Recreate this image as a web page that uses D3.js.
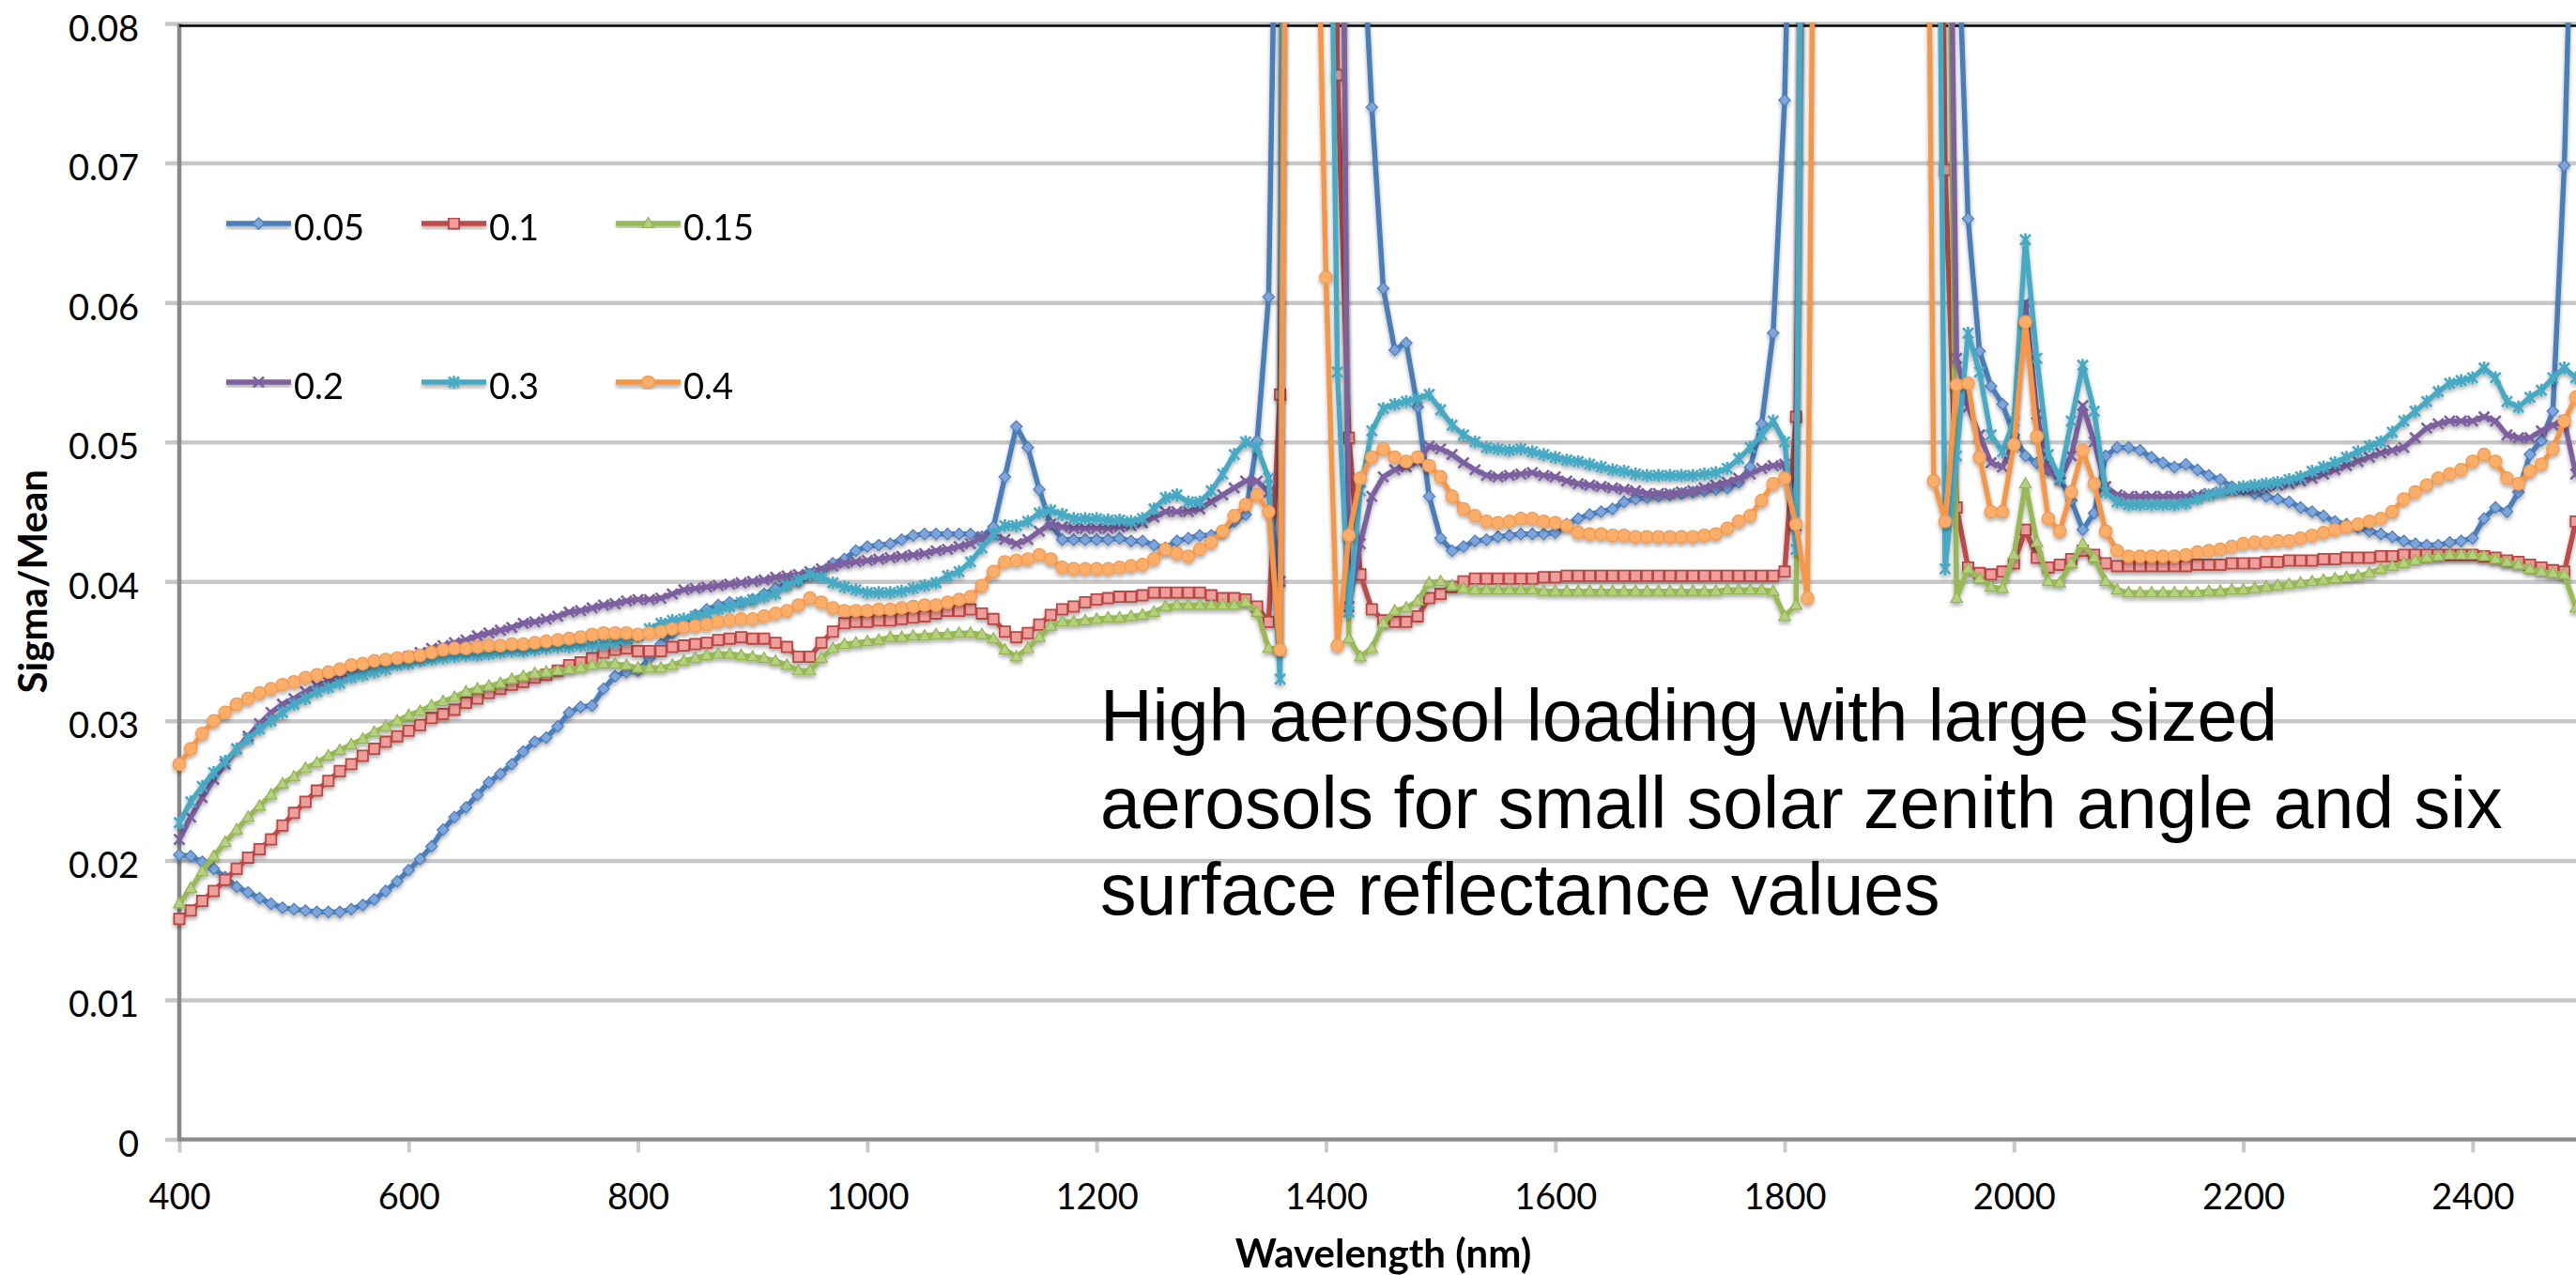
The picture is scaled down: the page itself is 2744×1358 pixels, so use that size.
<!DOCTYPE html>
<html>
<head>
<meta charset="utf-8">
<script src="https://cdn.jsdelivr.net/npm/d3@7"></script>
<style>
  html, body { margin: 0; padding: 0; background: #fff; }
  svg { display: block; }
</style>
</head>
<body>
<svg id="chart" width="2744" height="1358"></svg>
<script>
// Wavelength grid (nm) shared by every series
const wavelengths = d3.range(400, 2501, 10);

// Legend labels: surface reflectance of each run
const reflectances = ["0.05", "0.1", "0.15", "0.2", "0.3", "0.4"];

// Sigma/Mean per wavelength, one array per surface reflectance.
// Values above 0.08 sit in the water-vapour bands and run off the top of the plot.
const sigma005 = [
  0.0204,0.0203,0.0199,0.0194,0.0188,0.0181,0.0177,0.0173,0.0169,0.0166,
  0.0165,0.0164,0.0163,0.0163,0.0163,0.0165,0.0168,0.0172,0.0178,0.0185,
  0.0193,0.0201,0.0210,0.0222,0.0231,0.0238,0.0247,0.0256,0.0262,0.0269,
  0.0278,0.0285,0.0288,0.0296,0.0306,0.0310,0.0311,0.0323,0.0332,0.0335,
  0.0336,0.0345,0.0355,0.0363,0.0370,0.0376,0.0380,0.0383,0.0385,0.0385,
  0.0387,0.0391,0.0395,0.0398,0.0400,0.0405,0.0407,0.0413,0.0416,0.0422,
  0.0425,0.0426,0.0427,0.0430,0.0433,0.0434,0.0434,0.0434,0.0434,0.0434,
  0.0432,0.0439,0.0475,0.0511,0.0496,0.0466,0.0441,0.0430,0.0430,0.0430,
  0.0430,0.0430,0.0431,0.0429,0.0429,0.0426,0.0424,0.0429,0.0431,0.0433,
  0.0433,0.0436,0.0443,0.0448,0.0501,0.0604,0.1100,0.2000,0.2500,0.2500,
  0.2000,0.1500,0.1100,0.0900,0.0740,0.0610,0.0566,0.0571,0.0525,0.0461,
  0.0431,0.0422,0.0425,0.0429,0.0430,0.0432,0.0433,0.0434,0.0434,0.0434,
  0.0435,0.0441,0.0445,0.0448,0.0450,0.0452,0.0457,0.0459,0.0460,0.0461,
  0.0462,0.0463,0.0464,0.0465,0.0466,0.0467,0.0471,0.0482,0.0513,0.0578,
  0.0745,0.1100,0.1600,0.2200,0.3000,0.3500,0.4000,0.4000,0.4000,0.4000,
  0.3500,0.3000,0.2200,0.1600,0.1200,0.0900,0.0660,0.0565,0.0540,0.0527,
  0.0505,0.0490,0.0485,0.0480,0.0474,0.0458,0.0437,0.0449,0.0490,0.0496,
  0.0496,0.0494,0.0489,0.0485,0.0482,0.0484,0.0480,0.0476,0.0473,0.0468,
  0.0466,0.0463,0.0461,0.0459,0.0457,0.0453,0.0450,0.0447,0.0443,0.0441,
  0.0439,0.0436,0.0434,0.0432,0.0429,0.0427,0.0426,0.0426,0.0428,0.0429,
  0.0431,0.0445,0.0453,0.0450,0.0464,0.0491,0.0501,0.0522,0.0698,0.1000,
  0.1300
];
const sigma010 = [
  0.0158,0.0164,0.0171,0.0178,0.0186,0.0194,0.0202,0.0208,0.0215,0.0225,
  0.0234,0.0242,0.0250,0.0257,0.0264,0.0269,0.0275,0.0280,0.0285,0.0289,
  0.0293,0.0297,0.0302,0.0305,0.0308,0.0313,0.0316,0.0320,0.0323,0.0326,
  0.0328,0.0331,0.0333,0.0336,0.0340,0.0342,0.0345,0.0349,0.0351,0.0352,
  0.0350,0.0350,0.0350,0.0353,0.0354,0.0355,0.0356,0.0358,0.0359,0.0360,
  0.0359,0.0359,0.0356,0.0353,0.0346,0.0346,0.0356,0.0364,0.0370,0.0371,
  0.0371,0.0372,0.0372,0.0373,0.0374,0.0375,0.0377,0.0379,0.0379,0.0380,
  0.0377,0.0373,0.0364,0.0360,0.0363,0.0369,0.0376,0.0380,0.0382,0.0385,
  0.0387,0.0388,0.0389,0.0389,0.0390,0.0392,0.0392,0.0392,0.0392,0.0392,
  0.0390,0.0388,0.0388,0.0387,0.0382,0.0371,0.0534,0.2000,0.3000,0.3000,
  0.1800,0.0763,0.0503,0.0405,0.0380,0.0372,0.0371,0.0371,0.0375,0.0388,
  0.0391,0.0396,0.0400,0.0402,0.0402,0.0402,0.0402,0.0402,0.0402,0.0403,
  0.0403,0.0404,0.0404,0.0404,0.0404,0.0404,0.0404,0.0404,0.0404,0.0404,
  0.0404,0.0404,0.0404,0.0404,0.0404,0.0404,0.0404,0.0404,0.0404,0.0404,
  0.0407,0.0518,0.1200,0.2000,0.3000,0.3500,0.4000,0.4000,0.4000,0.4000,
  0.3500,0.3000,0.2000,0.1500,0.0695,0.0453,0.0410,0.0406,0.0405,0.0407,
  0.0413,0.0437,0.0417,0.0410,0.0412,0.0416,0.0422,0.0419,0.0413,0.0411,
  0.0411,0.0411,0.0411,0.0411,0.0411,0.0411,0.0412,0.0412,0.0412,0.0413,
  0.0413,0.0413,0.0414,0.0414,0.0415,0.0415,0.0415,0.0416,0.0416,0.0417,
  0.0417,0.0417,0.0418,0.0418,0.0419,0.0419,0.0419,0.0419,0.0419,0.0419,
  0.0419,0.0418,0.0417,0.0415,0.0414,0.0412,0.0410,0.0408,0.0407,0.0443,
  0.0450
];
const sigma015 = [
  0.0169,0.0180,0.0192,0.0203,0.0213,0.0222,0.0231,0.0239,0.0247,0.0255,
  0.0260,0.0266,0.0270,0.0275,0.0279,0.0283,0.0287,0.0292,0.0296,0.0300,
  0.0304,0.0307,0.0311,0.0314,0.0317,0.0321,0.0323,0.0325,0.0327,0.0330,
  0.0332,0.0334,0.0335,0.0336,0.0337,0.0338,0.0340,0.0341,0.0341,0.0340,
  0.0338,0.0338,0.0338,0.0340,0.0343,0.0345,0.0347,0.0348,0.0348,0.0347,
  0.0346,0.0345,0.0343,0.0340,0.0336,0.0336,0.0345,0.0352,0.0355,0.0356,
  0.0357,0.0358,0.0360,0.0360,0.0361,0.0361,0.0362,0.0362,0.0363,0.0363,
  0.0362,0.0359,0.0351,0.0346,0.0352,0.0360,0.0368,0.0371,0.0371,0.0372,
  0.0373,0.0374,0.0374,0.0375,0.0376,0.0378,0.0382,0.0383,0.0383,0.0383,
  0.0383,0.0383,0.0383,0.0385,0.0378,0.0352,0.0352,0.2500,0.3000,0.3000,
  0.2500,0.1500,0.0359,0.0346,0.0352,0.0370,0.0379,0.0381,0.0386,0.0399,
  0.0400,0.0397,0.0395,0.0394,0.0394,0.0394,0.0394,0.0394,0.0394,0.0393,
  0.0393,0.0393,0.0393,0.0393,0.0393,0.0393,0.0393,0.0393,0.0393,0.0393,
  0.0393,0.0393,0.0393,0.0393,0.0393,0.0394,0.0394,0.0394,0.0394,0.0393,
  0.0375,0.0383,0.1500,0.2500,0.3000,0.3500,0.4000,0.4000,0.4000,0.4000,
  0.3500,0.3000,0.2500,0.2000,0.1200,0.0388,0.0409,0.0402,0.0396,0.0395,
  0.0419,0.0470,0.0428,0.0400,0.0399,0.0413,0.0427,0.0417,0.0400,0.0394,
  0.0392,0.0392,0.0392,0.0392,0.0392,0.0392,0.0392,0.0393,0.0393,0.0394,
  0.0394,0.0395,0.0396,0.0397,0.0398,0.0399,0.0400,0.0401,0.0402,0.0403,
  0.0404,0.0406,0.0409,0.0411,0.0413,0.0415,0.0417,0.0418,0.0419,0.0419,
  0.0419,0.0418,0.0416,0.0414,0.0412,0.0409,0.0407,0.0406,0.0405,0.0381,
  0.0380
];
const sigma020 = [
  0.0215,0.0231,0.0245,0.0258,0.0269,0.0280,0.0289,0.0298,0.0306,0.0312,
  0.0316,0.0321,0.0325,0.0328,0.0332,0.0335,0.0337,0.0340,0.0342,0.0344,
  0.0346,0.0349,0.0352,0.0354,0.0356,0.0358,0.0361,0.0363,0.0365,0.0367,
  0.0370,0.0371,0.0373,0.0375,0.0378,0.0379,0.0381,0.0383,0.0384,0.0386,
  0.0387,0.0387,0.0388,0.0391,0.0394,0.0395,0.0396,0.0397,0.0398,0.0399,
  0.0400,0.0401,0.0403,0.0404,0.0405,0.0407,0.0409,0.0411,0.0413,0.0414,
  0.0415,0.0416,0.0417,0.0418,0.0419,0.0420,0.0422,0.0423,0.0425,0.0427,
  0.0432,0.0433,0.0430,0.0427,0.0430,0.0436,0.0441,0.0439,0.0438,0.0438,
  0.0438,0.0438,0.0439,0.0440,0.0442,0.0446,0.0450,0.0450,0.0450,0.0452,
  0.0457,0.0462,0.0467,0.0472,0.0472,0.0464,0.0400,0.2000,0.3000,0.3000,
  0.2500,0.1400,0.0382,0.0427,0.0461,0.0475,0.0480,0.0482,0.0486,0.0497,
  0.0495,0.0491,0.0485,0.0480,0.0476,0.0475,0.0476,0.0477,0.0478,0.0476,
  0.0475,0.0472,0.0470,0.0469,0.0468,0.0467,0.0466,0.0465,0.0463,0.0463,
  0.0463,0.0464,0.0465,0.0467,0.0469,0.0471,0.0474,0.0477,0.0481,0.0483,
  0.0484,0.0440,0.1400,0.2500,0.3000,0.3500,0.4000,0.4000,0.4000,0.4000,
  0.3500,0.3000,0.2500,0.2000,0.1200,0.0560,0.0525,0.0505,0.0485,0.0482,
  0.0500,0.0600,0.0520,0.0480,0.0473,0.0490,0.0526,0.0500,0.0468,0.0462,
  0.0461,0.0461,0.0461,0.0461,0.0461,0.0461,0.0462,0.0463,0.0464,0.0465,
  0.0466,0.0467,0.0468,0.0469,0.0470,0.0472,0.0474,0.0477,0.0480,0.0483,
  0.0486,0.0489,0.0492,0.0494,0.0496,0.0503,0.0510,0.0513,0.0515,0.0515,
  0.0515,0.0518,0.0515,0.0505,0.0503,0.0503,0.0508,0.0512,0.0515,0.0477,
  0.0470
];
const sigma030 = [
  0.0227,0.0242,0.0253,0.0263,0.0271,0.0280,0.0287,0.0294,0.0300,0.0306,
  0.0312,0.0316,0.0321,0.0324,0.0327,0.0331,0.0333,0.0335,0.0337,0.0340,
  0.0341,0.0343,0.0344,0.0345,0.0346,0.0347,0.0347,0.0348,0.0349,0.0350,
  0.0350,0.0351,0.0352,0.0353,0.0353,0.0354,0.0354,0.0355,0.0356,0.0358,
  0.0361,0.0366,0.0370,0.0372,0.0373,0.0375,0.0377,0.0380,0.0382,0.0385,
  0.0387,0.0389,0.0391,0.0397,0.0401,0.0405,0.0403,0.0399,0.0396,0.0394,
  0.0392,0.0392,0.0392,0.0393,0.0395,0.0397,0.0399,0.0404,0.0407,0.0414,
  0.0424,0.0434,0.0440,0.0440,0.0443,0.0449,0.0451,0.0448,0.0445,0.0445,
  0.0445,0.0444,0.0444,0.0443,0.0445,0.0452,0.0460,0.0462,0.0457,0.0457,
  0.0465,0.0477,0.0491,0.0500,0.0496,0.0474,0.0330,0.2500,0.3000,0.3000,
  0.1200,0.0550,0.0378,0.0465,0.0508,0.0524,0.0527,0.0529,0.0531,0.0534,
  0.0523,0.0512,0.0505,0.0500,0.0496,0.0495,0.0494,0.0495,0.0493,0.0491,
  0.0489,0.0487,0.0486,0.0484,0.0482,0.0480,0.0479,0.0477,0.0476,0.0476,
  0.0476,0.0476,0.0476,0.0477,0.0478,0.0481,0.0488,0.0496,0.0505,0.0515,
  0.0500,0.0423,0.1500,0.2500,0.3000,0.3500,0.4000,0.4000,0.4000,0.4000,
  0.3500,0.3000,0.2500,0.1400,0.0409,0.0490,0.0578,0.0550,0.0505,0.0493,
  0.0515,0.0645,0.0560,0.0491,0.0474,0.0515,0.0555,0.0522,0.0464,0.0457,
  0.0455,0.0455,0.0455,0.0455,0.0455,0.0456,0.0459,0.0462,0.0464,0.0466,
  0.0468,0.0469,0.0470,0.0471,0.0473,0.0475,0.0479,0.0482,0.0485,0.0489,
  0.0493,0.0497,0.0500,0.0507,0.0515,0.0522,0.0529,0.0536,0.0542,0.0544,
  0.0546,0.0553,0.0546,0.0529,0.0525,0.0532,0.0537,0.0546,0.0553,0.0546,
  0.0540
];
const sigma040 = [
  0.0269,0.0280,0.0291,0.0300,0.0306,0.0312,0.0316,0.0320,0.0323,0.0326,
  0.0328,0.0331,0.0333,0.0335,0.0337,0.0340,0.0341,0.0343,0.0344,0.0345,
  0.0346,0.0347,0.0349,0.0351,0.0352,0.0352,0.0353,0.0354,0.0354,0.0355,
  0.0355,0.0356,0.0357,0.0358,0.0359,0.0360,0.0362,0.0363,0.0363,0.0363,
  0.0362,0.0363,0.0364,0.0366,0.0367,0.0368,0.0369,0.0371,0.0372,0.0373,
  0.0373,0.0375,0.0377,0.0379,0.0383,0.0388,0.0385,0.0381,0.0379,0.0379,
  0.0379,0.0380,0.0380,0.0381,0.0382,0.0383,0.0383,0.0385,0.0387,0.0389,
  0.0397,0.0407,0.0414,0.0415,0.0416,0.0419,0.0416,0.0410,0.0409,0.0409,
  0.0409,0.0409,0.0410,0.0411,0.0412,0.0416,0.0423,0.0420,0.0418,0.0423,
  0.0428,0.0436,0.0447,0.0455,0.0462,0.0450,0.0351,0.1500,0.2500,0.1000,
  0.0618,0.0354,0.0433,0.0474,0.0489,0.0495,0.0489,0.0486,0.0489,0.0483,
  0.0475,0.0461,0.0452,0.0447,0.0443,0.0442,0.0443,0.0445,0.0445,0.0443,
  0.0442,0.0440,0.0435,0.0434,0.0434,0.0433,0.0433,0.0432,0.0432,0.0432,
  0.0432,0.0432,0.0432,0.0433,0.0434,0.0438,0.0443,0.0447,0.0458,0.0470,
  0.0474,0.0441,0.0388,0.1400,0.2500,0.3000,0.3500,0.3500,0.3000,0.2500,
  0.2000,0.1800,0.1400,0.0472,0.0443,0.0541,0.0542,0.0489,0.0450,0.0450,
  0.0498,0.0586,0.0504,0.0445,0.0436,0.0464,0.0494,0.0470,0.0436,0.0422,
  0.0418,0.0418,0.0418,0.0418,0.0418,0.0419,0.0421,0.0422,0.0423,0.0425,
  0.0427,0.0428,0.0428,0.0429,0.0429,0.0431,0.0433,0.0435,0.0437,0.0439,
  0.0441,0.0443,0.0445,0.0450,0.0459,0.0464,0.0469,0.0474,0.0477,0.0480,
  0.0486,0.0491,0.0486,0.0474,0.0470,0.0479,0.0484,0.0495,0.0515,0.0532,
  0.0540
];

// Axis ticks
const xTicks = [400, 600, 800, 1000, 1200, 1400, 1600, 1800, 2000, 2200, 2400];
const yTicks = [0, 0.01, 0.02, 0.03, 0.04, 0.05, 0.06, 0.07, 0.08];

// Annotation block
const noteLines = [
  "High aerosol loading with large sized",
  "aerosols for small solar zenith angle and six",
  "surface reflectance values"
];

// ---------------------------------------------------------------------------
const W = 2744, H = 1358;
const svg = d3.select("#chart");
svg.append("rect").attr("width", W).attr("height", H).attr("fill", "#fff");

const x = d3.scaleLinear().domain([400, 2500]).range([191, 2756]);
const y = d3.scaleLinear().domain([0, 0.08]).range([1213.5, 25]);

const tickFont = "Lato, 'Open Sans', sans-serif";

const defs = svg.append("defs");
defs.append("clipPath").attr("id", "plotClip")
  .append("rect").attr("x", 0).attr("y", y(0.08) - 1).attr("width", W).attr("height", H);
const shadow = defs.append("filter").attr("id", "shadow")
  .attr("x", "-2%").attr("y", "-2%").attr("width", "104%").attr("height", "106%");
shadow.append("feDropShadow").attr("dx", 0).attr("dy", 3).attr("stdDeviation", 2.2)
  .attr("flood-color", "#000").attr("flood-opacity", 0.32);

// Horizontal gridlines and value labels (grid starts a little left of the axis)
const gridLeft = 176;
const yAxis = d3.axisLeft(y)
  .tickValues(yTicks)
  .tickSize(-(W - gridLeft))
  .tickPadding(28)
  .tickFormat(d => d === 0 ? "0" : d3.format(".2f")(d));
const gy = svg.append("g").attr("transform", `translate(${gridLeft},0)`).call(yAxis);
gy.select(".domain").remove();
gy.selectAll(".tick line").attr("stroke", "#C8C8C8").attr("stroke-width", 4.5);
gy.selectAll(".tick text")
  .attr("dy", 18)
  .attr("fill", "#000")
  .style("font-family", tickFont)
  .style("font-size", "38px");

// Category axis ticks and labels
const xAxis = d3.axisBottom(x)
  .tickValues(xTicks)
  .tickSize(14)
  .tickPadding(33.5)
  .tickFormat(d3.format("d"));
const gx = svg.append("g").attr("transform", `translate(0,${y(0)})`).call(xAxis);
gx.select(".domain").remove();
gx.selectAll(".tick line").attr("stroke", "#C8C8C8").attr("stroke-width", 4);
gx.selectAll(".tick text")
  .attr("fill", "#000")
  .style("font-family", tickFont)
  .style("font-size", "38px");

// Axis lines and top border
svg.append("line").attr("x1", x(400)).attr("x2", W).attr("y1", y(0)).attr("y2", y(0))
  .attr("stroke", "#8A8A8A").attr("stroke-width", 4);
svg.append("line").attr("x1", x(400)).attr("x2", x(400)).attr("y1", y(0.08)).attr("y2", y(0) + 2)
  .attr("stroke", "#888").attr("stroke-width", 4.5);
svg.append("line").attr("x1", x(400)).attr("x2", W).attr("y1", y(0.08) + 2.5).attr("y2", y(0.08) + 2.5)
  .attr("stroke", "#000").attr("stroke-width", 2.5);

// Marker shapes in the classic spreadsheet order
const diamond = { draw(c, s) { const r = Math.sqrt(s) / 2; c.moveTo(0, -r); c.lineTo(r, 0); c.lineTo(0, r); c.lineTo(-r, 0); c.closePath(); } };
const square = { draw(c, s) { const r = Math.sqrt(s) / 2; c.rect(-r, -r, 2 * r, 2 * r); } };
const triangle = { draw(c, s) { const r = Math.sqrt(s) / 2; c.moveTo(0, -r * 1.1); c.lineTo(r * 1.05, r * 0.75); c.lineTo(-r * 1.05, r * 0.75); c.closePath(); } };
const cross = { draw(c, s) { const r = Math.sqrt(s) / 2; c.moveTo(-r, -r); c.lineTo(r, r); c.moveTo(-r, r); c.lineTo(r, -r); } };
const star = { draw(c, s) { const r = Math.sqrt(s) / 2; c.moveTo(-r, -r); c.lineTo(r, r); c.moveTo(-r, r); c.lineTo(r, -r); c.moveTo(0, -r * 1.25); c.lineTo(0, r * 1.25); } };
const circle = { draw(c, s) { const r = Math.sqrt(s) / 2; c.moveTo(r, 0); c.arc(0, 0, r, 0, 2 * Math.PI); } };

const seriesDefs = [
  { label: reflectances[0], values: sigma005, line: "#4A7EBB", type: diamond,  size: 150, fill: "#7DA5DC", stroke: "#4A7EBB", sw: 1.2 },
  { label: reflectances[1], values: sigma010, line: "#BE4B48", type: square,   size: 125, fill: "#EE9F9C", stroke: "#BB4643", sw: 1.8 },
  { label: reflectances[2], values: sigma015, line: "#98B954", type: triangle, size: 140, fill: "#B5D17F", stroke: "#93B44F", sw: 1.2 },
  { label: reflectances[3], values: sigma020, line: "#7D60A0", type: cross,    size: 120, fill: "none",    stroke: "#7D60A0", sw: 2.6 },
  { label: reflectances[4], values: sigma030, line: "#46AAC5", type: star,     size: 120, fill: "none",    stroke: "#46AAC5", sw: 2.6 },
  { label: reflectances[5], values: sigma040, line: "#F79646", type: circle,   size: 180, fill: "#FBAE6B", stroke: "#F5974B", sw: 1.2 }
];

const lineGen = d3.line().x(d => x(d.w)).y(d => y(d.v));
const plot = svg.append("g").attr("clip-path", "url(#plotClip)");

seriesDefs.forEach(s => {
  const pts = wavelengths.map((w, i) => ({ w, v: s.values[i] }));
  const g = plot.append("g").attr("filter", "url(#shadow)");
  g.append("path").datum(pts)
    .attr("d", lineGen)
    .attr("fill", "none")
    .attr("stroke", s.line)
    .attr("stroke-width", 5.5)
    .attr("stroke-linejoin", "round");
  const sym = d3.symbol().type(s.type).size(s.size);
  g.selectAll("path.mk").data(pts.filter(d => d.v <= 0.085)).join("path")
    .attr("class", "mk")
    .attr("transform", d => `translate(${x(d.w)},${y(d.v)})`)
    .attr("d", sym)
    .attr("fill", s.fill)
    .attr("stroke", s.stroke)
    .attr("stroke-width", s.sw);
});

// Legend: two rows of three
const legendCols = [241, 449, 656];
const legendRows = [238, 407];
const legend = svg.append("g");
seriesDefs.forEach((s, i) => {
  const lx = legendCols[i % 3], ly = legendRows[Math.floor(i / 3)];
  const item = legend.append("g").attr("filter", "url(#shadow)");
  item.append("line").attr("x1", lx).attr("x2", lx + 69).attr("y1", ly).attr("y2", ly)
    .attr("stroke", s.line).attr("stroke-width", 5.5);
  item.append("path").attr("transform", `translate(${lx + 34.5},${ly})`)
    .attr("d", d3.symbol().type(s.type).size(s.size))
    .attr("fill", s.fill).attr("stroke", s.stroke).attr("stroke-width", s.sw);
  legend.append("text").attr("x", lx + 72).attr("y", ly + 18)
    .text(s.label)
    .style("font-family", tickFont).style("font-size", "38px").attr("fill", "#000");
});

// Axis titles
svg.append("text")
  .attr("transform", `translate(50,${(y(0) + y(0.08)) / 2}) rotate(-90)`)
  .attr("text-anchor", "middle")
  .style("font-family", tickFont).style("font-size", "42px").style("font-weight", "bold")
  .text("Sigma/Mean");
svg.append("text")
  .attr("x", (x(400) + x(2500)) / 2).attr("y", 1350)
  .attr("text-anchor", "middle")
  .style("font-family", tickFont).style("font-size", "42px").style("font-weight", "bold")
  .text("Wavelength (nm)");

// Annotation
svg.append("g").selectAll("text").data(noteLines).join("text")
  .attr("x", 1172)
  .attr("y", (d, i) => 789 + i * 92.5)
  .style("font-family", "'Liberation Sans', Arial, sans-serif")
  .style("font-size", "77px")
  .attr("fill", "#000")
  .text(d => d);
</script>
</body>
</html>
